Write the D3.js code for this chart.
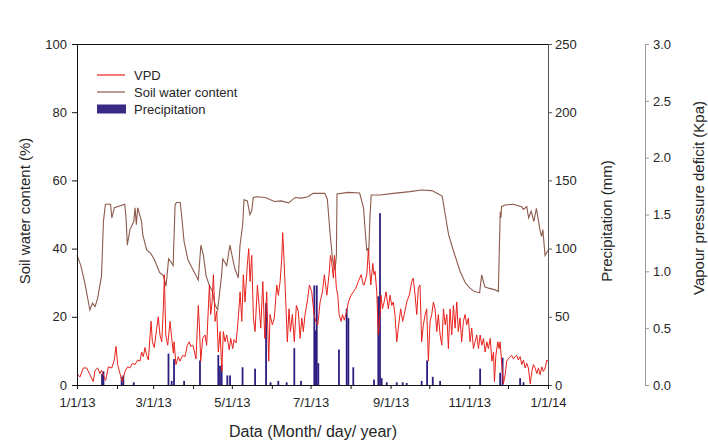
<!DOCTYPE html>
<html>
<head>
<meta charset="utf-8">
<script src="https://cdn.jsdelivr.net/npm/d3@7"></script>
<style>
  html, body { margin: 0; padding: 0; background: #fff; }
  svg { display: block; font-family: "Liberation Sans", Arial, sans-serif; }
</style>
</head>
<body>
<svg id="chart" width="708" height="446"></svg>
<script>
// ---- DATA (day of year 2013, value) ----
const soilSeries = [
  [0,38],[3,35],[6,30],[10,22],[12,24],[14,23],[16,25.5],[19,32],[20.5,48],[22,53],[26,53],[27,49],[29,52],
  [37,53],[38,49],[39,41],[41,45.5],[44,48],[45,52],[46,47],[47,52],[50,48],[51,44],[54,39.6],[57,38.7],
  [60,36.7],[64,33],[67,32],[69,29],[71,37],[73,36],[74.5,35],[76,52.8],[77,53.5],[80,53.5],[81,50],[83,42],
  [86,36.7],[90,33.7],[94,30.8],[96,41],[98,38],[100,32],[102.5,29.3],[105,27.4],[107,23.5],[109,22],[112,32],
  [113,37],[116,35],[118.5,41],[120.7,37],[122.4,34],[125,31.4],[126.3,41],[128.4,47],[129.4,54.3],[132,54],
  [134,50],[135.4,51],[136.6,55],[139,55.2],[146,55],[149,54.5],[153,53.8],[158,54],[164,53.4],[169,55],
  [174,54.8],[179,55.2],[183,56.2],[192,56.2],[194,54.5],[196,45],[198,37],[200,33.7],[201,38],[201.5,56],
  [210,56.5],[219,56.3],[222,52],[224.5,39.6],[225.5,40],[226,38],[227,49],[228,55.7],[235,55.7],[245,56.2],
  [258,56.7],[267,57.2],[275,57],[279,56.2],[283,55.4],[285,50.8],[288,44],[292,39],[297,33.2],[301,29.9],
  [304.5,28.4],[308,27.4],[312,27],[313.6,32.3],[316,28.8],[319,28.4],[324,27.9],[326.5,27.4],[328,50.8],
  [328.5,49],[329,52.3],[331.7,52.8],[338,53],[344.6,52.3],[346,51.5],[348.5,52.3],[350,49],[352,51],[354,48],
  [356,51.8],[359,45],[360,43.6],[361,45.6],[362.7,38],[365,39.5]
];

const vpdSeries = [
  [0,0.10],[2.3,0.07],[4.9,0.15],[7.5,0.15],[10,0.09],[12.6,0.03],[14,0.13],[16,0.15],[17.8,0.10],[19,0.13],
  [20.4,0.09],[22.2,0.04],[24.3,0.16],[26.9,0.15],[28.9,0.22],[30.2,0.34],[31.5,0.18],[33.3,0.10],[35.1,0.03],
  [37.2,0.12],[39.3,0.16],[41,0.15],[42.9,0.19],[45,0.18],[47,0.22],[48.8,0.21],[50.1,0.29],[51.4,0.25],
  [52.7,0.33],[54,0.26],[55.3,0.22],[57.4,0.56],[58.4,0.38],[59.9,0.33],[61.8,0.50],[63,0.60],[64.3,0.44],
  [65.7,0.38],[66.9,0.67],[67.7,0.97],[68.8,0.44],[70.3,0.35],[72.1,0.56],[73.4,0.41],[74.7,0.28],[75.2,0.38],
  [76.7,0.18],[78.5,0.25],[79.8,0.21],[81.9,0.26],[83.7,0.25],[85.5,0.35],[87,0.38],[88.1,0.34],[89.7,0.35],
  [90.7,0.31],[92.2,0.23],[94,0.70],[94.8,0.53],[95.9,0.21],[97.4,0.41],[99.2,0.44],[100.5,0.35],[102.6,0.88],
  [103.6,0.62],[104.7,0.73],[105.7,0.97],[107,0.56],[108.3,0.65],[109.5,0.29],[110.9,0.47],[112.2,0.12],
  [113.4,0.47],[114.7,0.38],[116,0.44],[118,0.31],[119.1,0.41],[120.7,0.32],[121.7,0.40],[123.3,0.37],
  [125,0.59],[126.4,0.82],[127.7,0.56],[128.9,0.97],[130.2,0.73],[132,1.06],[133.1,1.20],[134.1,0.91],
  [135.4,1.14],[136.7,0.59],[138,0.47],[139.8,0.88],[141.1,0.70],[142.4,0.50],[144,0.91],[145.5,0.41],
  [147,0.82],[148.6,0.21],[149.6,0.62],[151.4,0.53],[152.9,0.59],[154.8,0.88],[156,0.79],[157.4,0.91],
  [158.7,1.12],[159.4,1.34],[160.5,1.08],[161.8,0.73],[163,0.38],[164.3,0.67],[165.4,0.47],[166.9,0.62],
  [168.4,0.38],[170,0.70],[171.5,0.65],[172.9,0.41],[174.2,0.59],[175.4,0.47],[176.7,0.62],[178.8,0.76],
  [180.1,0.88],[181.9,0.82],[183.7,0.62],[185,0.56],[186.6,0.53],[188.4,0.73],[190.2,0.82],[191.7,0.97],
  [193.6,0.79],[195.3,0.97],[196.4,1.14],[197.4,1.08],[198.7,0.94],[199.5,1.14],[201,0.85],[202.1,0.79],
  [203.1,0.62],[204.7,0.56],[205.7,0.62],[207.2,0.57],[209,0.65],[210.3,0.73],[212.4,0.79],[214.2,0.82],
  [216,0.85],[218,0.91],[220.2,0.97],[221.9,0.88],[222.5,0.88],[224.6,0.97],[225.8,1.19],[226.6,1.05],
  [227.7,0.88],[229.2,1.07],[230.2,0.97],[231,1.0],[232.3,0.82],[233.5,0.44],[234.9,0.62],[235.6,0.79],
  [236.7,0.67],[238,0.73],[239.5,0.82],[241.3,0.67],[242.6,0.79],[243.9,0.70],[245.1,0.73],[246.4,0.62],
  [247.8,0.38],[249,0.50],[250.8,0.67],[252.4,0.56],[253.6,0.62],[255.5,0.73],[257.5,0.79],[259.4,0.91],
  [260.6,0.94],[262,0.79],[263.3,0.62],[264.5,0.85],[265.8,0.88],[267.1,0.38],[268.4,0.53],[269.8,0.62],
  [271,0.67],[272.3,0.21],[273.6,0.56],[274.9,0.62],[276.2,0.73],[277.5,0.67],[278.8,0.47],[280,0.62],
  [281.4,0.44],[282.7,0.35],[284,0.67],[285.3,0.53],[286.6,0.62],[287.8,0.32],[289.1,0.67],[290.4,0.44],
  [291.7,0.70],[293,0.50],[294.3,0.73],[295.5,0.47],[296.8,0.59],[298.1,0.38],[299.4,0.56],[300.7,0.62],
  [302,0.53],[303.3,0.59],[304.6,0.38],[305.9,0.50],[307.2,0.32],[308.5,0.38],[309.8,0.44],[311.1,0.32],
  [312.4,0.44],[313.7,0.35],[315,0.41],[316.3,0.29],[317.6,0.38],[318.8,0.32],[320.2,0.41],[321.5,0.21],
  [322.8,0.29],[323.5,0.03],[324.6,0.26],[326.1,0.38],[327.1,0.32],[327.9,0.38],[329.2,0.18],[330.4,0.01],
  [331.8,0.09],[333,0.21],[334.3,0.23],[335.7,0.25],[336.9,0.26],[338.2,0.23],[339.5,0.25],[340.8,0.26],
  [342,0.22],[343.4,0.25],[344.7,0.18],[346,0.22],[347.3,0.15],[348.6,0.19],[349.8,0.15],[351.2,0.01],
  [352.5,0.12],[353.7,0.18],[355,0.15],[356.4,0.10],[357.6,0.15],[358.9,0.09],[360.2,0.16],[361.4,0.12],
  [362.8,0.15],[364.1,0.22],[365,0.21]
];

const precipSeries = [
  [19.4,8],[20.5,10],[34.6,6],[35.9,7],[44,2],[70.9,23],[73.4,3],[75.2,19],[83,3],[95.3,18],[109.5,22],
  [110.8,14],[112.1,15],[116.5,7],[118.6,7],[128.3,13],[138,12],[146.5,60],[150,2],[156,3],[162.5,2],
  [168.4,27],[173.6,3],[183.9,73],[185,40],[185.8,73],[187,16],[203,26],[209,56],[210.3,49],[214.1,13],
  [230.2,4],[233.5,65],[234.8,126],[236.1,5],[240,2],[247.8,2],[252.4,2],[255.5,1.5],[267.1,3],[271.3,18],
  [275.7,6],[281.4,3],[312.4,12],[327.9,9],[329.8,20],[343.4,5],[346,2]
];

const soilTicks = [0, 20, 40, 60, 80, 100];
const precipTicks = [0, 50, 100, 150, 200, 250];
const vpdTicks = [0, 0.5, 1.0, 1.5, 2.0, 2.5, 3.0];
const xTickLabels = ["1/1/13", "", "3/1/13", "", "5/1/13", "", "7/1/13", "", "9/1/13", "", "11/1/13", "", "1/1/14"];
const legendLabels = ["VPD", "Soil water content", "Precipitation"];

// ---- LAYOUT ----
const L = 77, R = 548, T = 44, B = 385;
const C_VPD = "#e8211c", C_SOIL = "#8d5a4c", C_PRE = "#2c1f80";
const textCol = "#262626";

const day0 = Date.UTC(2013, 0, 1);
const toDate = d => new Date(day0 + d * 86400000);

const x = d3.scaleUtc().domain([toDate(0), toDate(365)]).range([L, R]);
const ySoil = d3.scaleLinear().domain([0, 100]).range([B, T]);
const yPre = d3.scaleLinear().domain([0, 250]).range([B, T]);
const yVpd = d3.scaleLinear().domain([0, 3]).range([B, T]);

const svg = d3.select("#chart");
svg.append("rect").attr("width", 708).attr("height", 446).attr("fill", "#fff");

// precipitation bars
svg.append("g").selectAll("rect").data(precipSeries).join("rect")
  .attr("x", d => x(toDate(d[0])) - 0.9)
  .attr("width", 1.8)
  .attr("y", d => yPre(d[1]))
  .attr("height", d => B - yPre(d[1]))
  .attr("fill", C_PRE);

// soil water content line
svg.append("path").datum(soilSeries)
  .attr("fill", "none").attr("stroke", C_SOIL).attr("stroke-width", 1.1)
  .attr("d", d3.line().x(d => x(toDate(d[0]))).y(d => ySoil(d[1])));

// VPD line
svg.append("path").datum(vpdSeries)
  .attr("fill", "none").attr("stroke", C_VPD).attr("stroke-width", 1)
  .attr("d", d3.line().x(d => x(toDate(d[0]))).y(d => yVpd(d[1])));

// frame top line
svg.append("line").attr("x1", L).attr("x2", R).attr("y1", T + 0.5).attr("y2", T + 0.5)
  .attr("stroke", "#111").attr("stroke-width", 1);

function styleAxis(g, col) {
  g.select(".domain").attr("stroke", col);
  g.selectAll(".tick line").attr("stroke", col);
  g.selectAll("text").attr("fill", textCol).attr("font-size", 13)
    .attr("font-family", "'Liberation Sans', Arial, sans-serif");
}

// left axis
const gL = svg.append("g").attr("transform", `translate(${L},0)`)
  .call(d3.axisLeft(ySoil).tickValues(soilTicks).tickSize(5).tickPadding(5).tickSizeOuter(0));
styleAxis(gL, "#111");

// right precipitation axis
const gR = svg.append("g").attr("transform", `translate(${R},0)`)
  .call(d3.axisRight(yPre).tickValues(precipTicks).tickSize(4).tickPadding(3).tickSizeOuter(0));
styleAxis(gR, "#555");

// VPD axis
const gV = svg.append("g").attr("transform", `translate(645,0)`)
  .call(d3.axisRight(yVpd).tickValues(vpdTicks).tickSize(4).tickPadding(4).tickSizeOuter(0).tickFormat(d3.format(".1f")));
styleAxis(gV, "#9a9a9a");

// bottom axis
const monthTicks = d3.range(13).map(i => new Date(Date.UTC(2013, i, 1)));
const gB = svg.append("g").attr("transform", `translate(0,${B})`)
  .call(d3.axisBottom(x).tickValues(monthTicks).tickSize(4).tickPadding(9).tickSizeOuter(0)
    .tickFormat((d, i) => xTickLabels[i]));
styleAxis(gB, "#111");

// axis titles
svg.append("text").attr("x", 313).attr("y", 437).attr("text-anchor", "middle")
  .attr("font-size", 16).attr("fill", textCol).text("Data (Month/ day/ year)");
svg.append("text").attr("transform", "translate(30,211) rotate(-90)").attr("text-anchor", "middle")
  .attr("font-size", 15).attr("fill", textCol).text("Soil water content (%)");
svg.append("text").attr("transform", "translate(612,221) rotate(-90)").attr("text-anchor", "middle")
  .attr("font-size", 15).attr("fill", textCol).text("Precipitation (mm)");
svg.append("text").attr("transform", "translate(704,198) rotate(-90)").attr("text-anchor", "middle")
  .attr("font-size", 15).attr("fill", textCol).text("Vapour pressure deficit (Kpa)");

// legend
const lg = svg.append("g");
const ly = [75, 92, 109];
lg.append("line").attr("x1", 97).attr("x2", 125).attr("y1", ly[0]).attr("y2", ly[0]).attr("stroke", C_VPD).attr("stroke-width", 1.2);
lg.append("line").attr("x1", 97).attr("x2", 125).attr("y1", ly[1]).attr("y2", ly[1]).attr("stroke", C_SOIL).attr("stroke-width", 1.2);
lg.append("rect").attr("x", 97).attr("y", ly[2] - 4.5).attr("width", 29).attr("height", 9).attr("fill", "#3a2a86");
lg.selectAll("text").data(legendLabels).join("text")
  .attr("x", 134).attr("y", (d, i) => ly[i]).attr("dy", "0.35em")
  .attr("font-size", 13).attr("fill", textCol).text(d => d);
</script>
</body>
</html>
